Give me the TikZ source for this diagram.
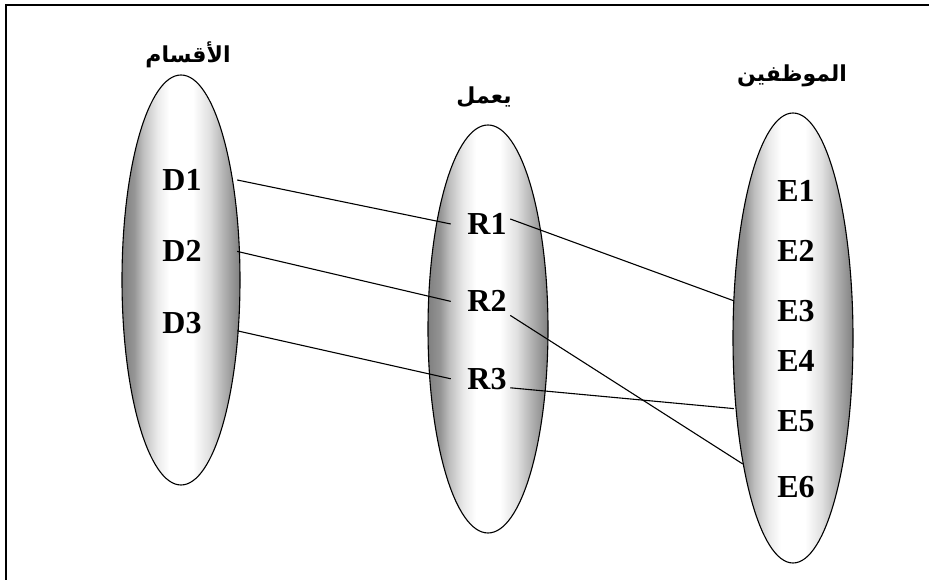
\documentclass[tikz,border=0pt]{standalone}
\usepackage{fontspec}
\setmainfont{Liberation Serif}
\newfontfamily\arabicfont[Script=Arabic]{DejaVu Sans}
\TeXXeTstate=1
\usetikzlibrary{shapes.geometric, positioning}
\pgfdeclarehorizontalshading{ovalshade}{100bp}{color(0bp)=(black!50); color(25bp)=(black!50); color(30bp)=(black!42); color(34bp)=(black!25); color(40bp)=(black!8); color(45bp)=(white); color(55bp)=(white); color(62bp)=(black!12); color(68bp)=(black!30); color(75bp)=(black!50); color(100bp)=(black!50)}
\begin{document}
\begin{tikzpicture}[x=1pt,y=1pt,
    oval/.style={ellipse,draw,line width=1.1pt,shade,shading=ovalshade,inner sep=0pt},
    elem/.style={font=\fontsize{32}{32}\selectfont\bfseries,inner sep=0pt,minimum height=26pt},
    setname/.style={font=\fontsize{22}{26}\selectfont\arabicfont\bfseries,inner sep=0pt},
    link/.style={line width=1.1pt}]
  \useasboundingbox (0,0) rectangle (929,580);
  \draw[line width=1.6pt] (6,0) |- (929,575);
  \node[oval,minimum width=118,minimum height=410] (deptset) at (181,300) {};
  \node[oval,minimum width=120,minimum height=408] (worksset) at (488,251) {};
  \node[oval,minimum width=120,minimum height=450] (empset) at (793,242) {};
  \node[setname] (dept) at (188,525) {\beginR الأقسام\endR};
  \node[setname] (works) at (484,483) {\beginR يعمل\endR};
  \node[setname] (emp) at (792,504) {\beginR الموظفين\endR};
  \node[elem,minimum width=110] (D1) at (182,400) {D1};
  \node[elem,minimum width=110,below=45pt of D1] (D2) {D2};
  \node[elem,minimum width=110,below=45pt of D2] (D3) {D3};
  \node[elem,inner xsep=3.5pt] (R1) at (487,356) {R1};
  \node[elem,inner xsep=3.5pt,below=51pt of R1] (R2) {R2};
  \node[elem,inner xsep=3.5pt,below=51pt of R2] (R3) {R3};
  \node[elem,minimum width=124] (E1) at (796,389) {E1};
  \node[elem,minimum width=124,below=34pt of E1] (E2) {E2};
  \node[elem,minimum width=124,below=33pt of E2] (E3) {E3};
  \node[elem,minimum width=124,below=24pt of E3] (E4) {E4};
  \node[elem,minimum width=124,below=34pt of E4] (E5) {E5};
  \node[elem,minimum width=124,below=39pt of E5] (E6) {E6};
  \draw[link] (D1.east) -- ([xshift=-13pt]R1.west);
  \draw[link] (D2.east) -- ([xshift=-13pt]R2.west);
  \draw[link] ([yshift=-8pt]D3.east) -- ([xshift=-13pt]R3.west);
  \draw[link] ([yshift=5pt]R1.east) -- ([yshift=10pt]E3.west);
  \draw[link] ([yshift=-14pt]R2.east) -- ([shift={(9pt,23pt)}]E6.west);
  \draw[link] ([yshift=-9pt]R3.east) -- ([yshift=13pt]E5.west);
\end{tikzpicture}
\end{document}
